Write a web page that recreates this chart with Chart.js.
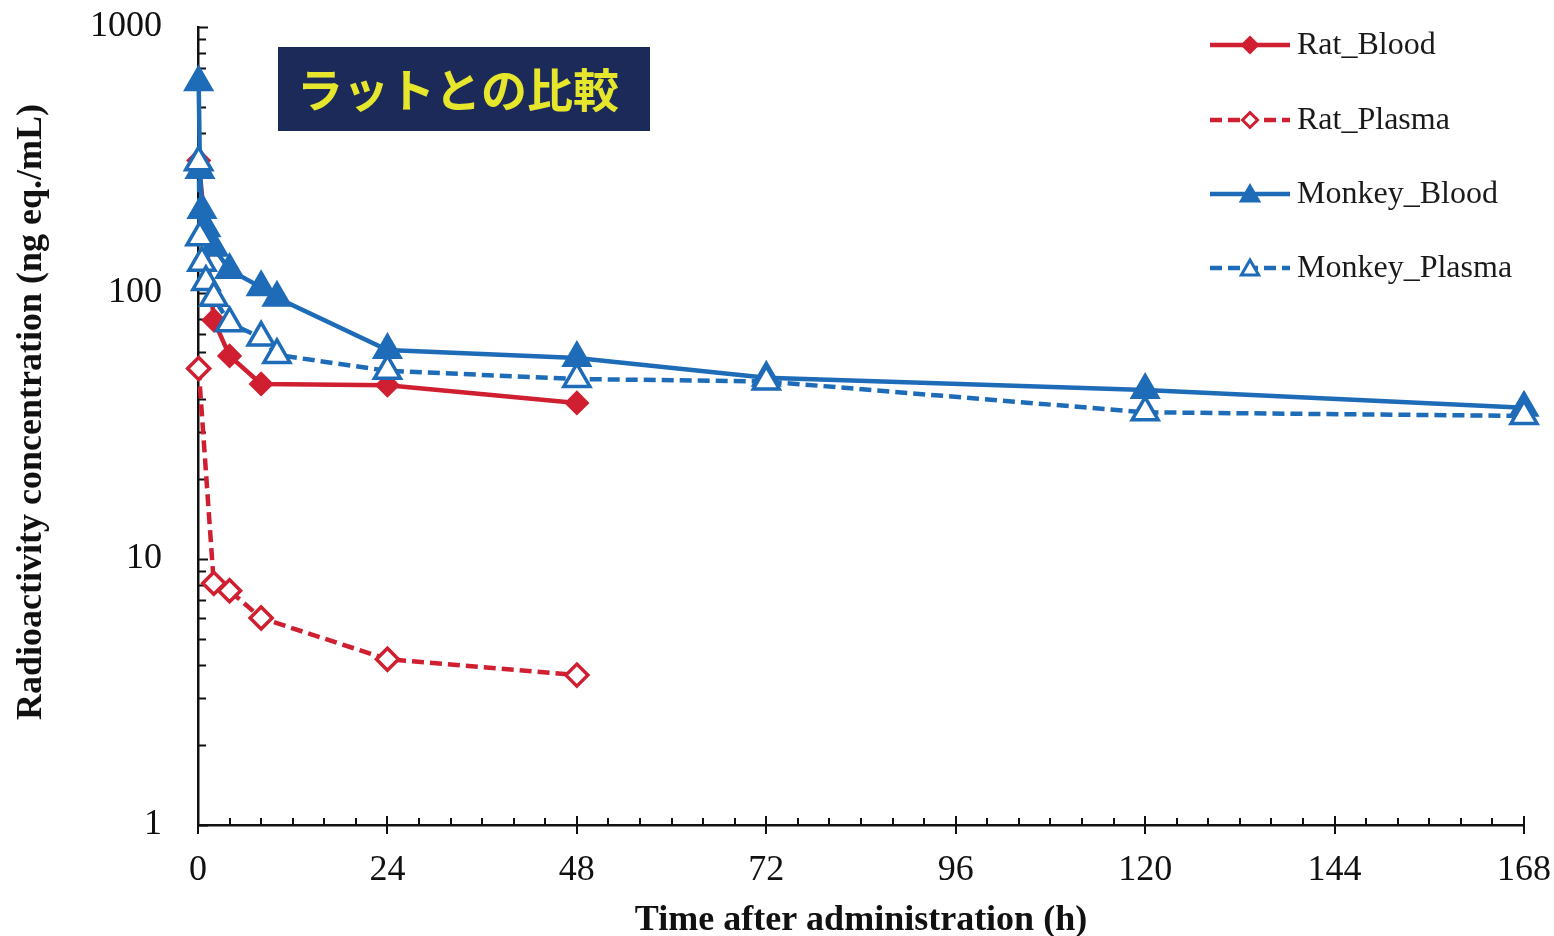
<!DOCTYPE html>
<html>
<head>
<meta charset="utf-8">
<script src="https://cdn.jsdelivr.net/npm/chart.js@4.4.1/dist/chart.umd.min.js"></script>
<style>
  html, body { margin: 0; padding: 0; background: #ffffff; }
  #wrap { width: 1554px; height: 936px; }
</style>
</head>
<body>
<div id="wrap"><canvas id="c" width="1554" height="936"></canvas></div>
<script>
// ---------- data ----------
const ratTimes      = [0.083, 2, 4, 8, 24, 48];
const ratBlood      = [315, 79, 58, 45.5, 45, 38.6];
const ratPlasma     = [52, 8.1, 7.6, 6.0, 4.2, 3.66];

const monkeyTimes   = [0.083, 0.25, 0.5, 1, 2, 4, 8, 10, 24, 48, 72, 120, 168];
const monkeyBlood   = [620, 290, 205, 175, 148, 122, 105, 96, 61, 57, 48, 43.2, 37];
const monkeyPlasma  = [310, 162, 130, 110, 96, 77, 68, 58.5, 51, 47.5, 46.5, 35.6, 34.5];

const seriesNames   = ['Rat_Blood', 'Rat_Plasma', 'Monkey_Blood', 'Monkey_Plasma'];
const yTickLabels   = [1, 10, 100, 1000];
const xMajorStep    = 24;
const xMinorStep    = 4;
const xMax          = 168;
const titleText     = 'ラットとの比較';
const xTitle        = 'Time after administration (h)';
const yTitle        = 'Radioactivity concentration (ng eq./mL)';

// ---------- styles ----------
const RED  = '#cf1f31';
const BLUE = '#1e6bb8';
const SERIF = '"Liberation Serif", "Times New Roman", serif';

function pts(xs, ys) { return xs.map((x, i) => ({ x: x, y: ys[i] })); }

const datasets = [
  { label: seriesNames[3], data: pts(monkeyTimes, monkeyPlasma), borderColor: BLUE, backgroundColor: '#ffffff',
    borderWidth: 4.5, borderDash: [12, 6], pointStyle: 'triangle', pointRadius: 15, pointBorderWidth: 3.5,
    pointBackgroundColor: '#ffffff', pointBorderColor: BLUE, order: 0, legendRow: 3, legendRadius: 10 },
  { label: seriesNames[2], data: pts(monkeyTimes, monkeyBlood), borderColor: BLUE, backgroundColor: BLUE,
    borderWidth: 4.5, pointStyle: 'triangle', pointRadius: 15, pointBorderWidth: 3,
    pointBackgroundColor: BLUE, pointBorderColor: BLUE, order: 1, legendRow: 2, legendRadius: 10 },
  { label: seriesNames[1], data: pts(ratTimes, ratPlasma), borderColor: RED, backgroundColor: '#ffffff',
    borderWidth: 4.5, borderDash: [12, 6], pointStyle: 'rectRot', pointRadius: 11, pointBorderWidth: 3.5,
    pointBackgroundColor: '#ffffff', pointBorderColor: RED, order: 2, legendRow: 1, legendRadius: 7.5 },
  { label: seriesNames[0], data: pts(ratTimes, ratBlood), borderColor: RED, backgroundColor: RED,
    borderWidth: 4.5, pointStyle: 'rectRot', pointRadius: 10.5, pointBorderWidth: 3,
    pointBackgroundColor: RED, pointBorderColor: RED, order: 3, legendRow: 0, legendRadius: 7.5 }
];
datasets.forEach(d => { d.tension = 0; d.fill = false; d.clip = false; d.pointHoverRadius = d.pointRadius; });

// ---------- plugins ----------
const tickMarks = {
  id: 'tickMarks',
  beforeDatasetsDraw(chart) {
    const { ctx, scales: { x, y } } = chart;
    ctx.save();
    ctx.strokeStyle = '#111';
    ctx.lineWidth = 2;
    ctx.beginPath();
    y.ticks.forEach(t => {
      const py = Math.round(y.getPixelForValue(t.value)) + 0.5;
      const major = yTickLabels.includes(t.value);
      ctx.moveTo(x.left, py);
      ctx.lineTo(x.left + (major ? 10 : 8), py);
    });
    x.ticks.forEach(t => {
      const px = Math.round(x.getPixelForValue(t.value));
      const major = t.value % xMajorStep === 0;
      ctx.moveTo(px, y.bottom + (major ? 9 : 0));
      ctx.lineTo(px, y.bottom - (major ? 9 : 7));
    });
    ctx.stroke();
    ctx.restore();
  }
};

function drawMarker(ctx, style, r, cx, cy) {
  ctx.beginPath();
  if (style === 'triangle') {
    ctx.moveTo(cx, cy - r);
    ctx.lineTo(cx + r * Math.sin(2 * Math.PI / 3), cy - r * Math.cos(2 * Math.PI / 3));
    ctx.lineTo(cx + r * Math.sin(4 * Math.PI / 3), cy - r * Math.cos(4 * Math.PI / 3));
  } else {
    ctx.moveTo(cx, cy - r);
    ctx.lineTo(cx + r, cy);
    ctx.lineTo(cx, cy + r);
    ctx.lineTo(cx - r, cy);
  }
  ctx.closePath();
  ctx.fill();
  ctx.stroke();
}

const customLegend = {
  id: 'customLegend',
  afterDraw(chart) {
    const ctx = chart.ctx;
    const rowsY = [45, 120, 194, 268];
    const x0 = 1210, x1 = 1290, xm = 1250, xt = 1297;
    ctx.save();
    chart.data.datasets.forEach(ds => {
      const yy = rowsY[ds.legendRow];
      ctx.strokeStyle = ds.borderColor;
      ctx.lineWidth = 4.5;
      ctx.setLineDash(ds.borderDash || []);
      ctx.beginPath();
      ctx.moveTo(x0, yy); ctx.lineTo(x1, yy);
      ctx.stroke();
      ctx.setLineDash([]);
      ctx.fillStyle = ds.pointBackgroundColor;
      ctx.strokeStyle = ds.pointBorderColor;
      ctx.lineWidth = 3;
      drawMarker(ctx, ds.pointStyle, ds.legendRadius, xm, yy + (ds.pointStyle === 'triangle' ? 2 : 0));
      ctx.fillStyle = '#1a1a1a';
      ctx.font = '32px ' + SERIF;
      ctx.textBaseline = 'middle';
      ctx.textAlign = 'left';
      ctx.fillText(ds.label, xt, yy + 1);
    });
    ctx.restore();
  }
};

const titleBox = {
  id: 'titleBox',
  afterDraw(chart) {
    const ctx = chart.ctx;
    ctx.save();
    ctx.fillStyle = '#1c2a5a';
    ctx.fillRect(278, 47, 372, 84);
    ctx.fillStyle = '#e6e62c';
    ctx.font = 'bold 46px "Noto Sans CJK JP", "Noto Sans CJK SC", sans-serif';
    ctx.textAlign = 'center';
    ctx.textBaseline = 'middle';
    ctx.fillText(titleText, 458, 90);
    // y-axis title
    ctx.translate(32, 412);
    ctx.rotate(-Math.PI / 2);
    ctx.fillStyle = '#111';
    ctx.font = 'bold 36px ' + SERIF;
    ctx.fillText(yTitle, 0, 0);
    ctx.restore();
  }
};

// ---------- chart ----------
new Chart(document.getElementById('c'), {
  type: 'line',
  data: { datasets: datasets },
  options: {
    responsive: false,
    devicePixelRatio: 1,
    animation: false,
    events: [],
    layout: { padding: { top: 27, right: 30, left: 0, bottom: 0 } },
    plugins: { legend: { display: false }, tooltip: { enabled: false } },
    scales: {
      x: {
        type: 'linear', min: 0, max: xMax,
        afterFit(scale) { scale.height = 111; scale.paddingLeft = 0; scale.paddingRight = 0; },
        afterBuildTicks(scale) {
          const t = [];
          for (let v = 0; v <= xMax; v += xMinorStep) t.push({ value: v });
          scale.ticks = t;
        },
        grid: { display: false, drawTicks: false },
        border: { display: true, color: '#111', width: 2.5 },
        ticks: {
          autoSkip: false, maxRotation: 0, padding: 24, color: '#111',
          font: { family: SERIF, size: 36 },
          callback: v => (v % xMajorStep === 0 ? String(v) : '')
        },
        title: {
          display: true, text: xTitle, color: '#111',
          font: { family: SERIF, size: 36, weight: 'bold' },
          padding: { top: 0, bottom: -6 }
        }
      },
      y: {
        type: 'logarithmic', min: 1, max: 1000,
        afterFit(scale) { scale.width = 198; scale.paddingTop = 0; scale.paddingBottom = 0; },
        afterBuildTicks(scale) {
          const t = [];
          for (let i = 0; i < yTickLabels.length - 1; i++) {
            for (let m = 1; m < 10; m++) t.push({ value: m * yTickLabels[i] });
          }
          t.push({ value: yTickLabels[yTickLabels.length - 1] });
          scale.ticks = t;
        },
        grid: { display: false, drawTicks: false },
        border: { display: true, color: '#111', width: 2.5 },
        ticks: {
          autoSkip: false, padding: 36, color: '#111',
          font: { family: SERIF, size: 36 },
          callback: v => (yTickLabels.includes(v) ? String(v) : '')
        },
        title: { display: false, text: yTitle }
      }
    }
  },
  plugins: [tickMarks, customLegend, titleBox]
});
</script>
</body>
</html>
